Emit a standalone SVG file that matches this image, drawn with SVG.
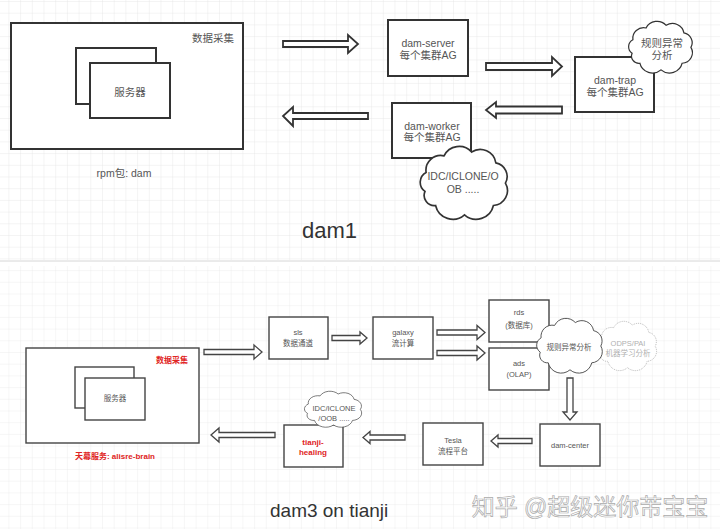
<svg xmlns="http://www.w3.org/2000/svg" width="720" height="529" viewBox="0 0 720 529">
<defs>
<pattern id="grid" x="8.4" y="1" width="11.7" height="11.7" patternUnits="userSpaceOnUse">
<path d="M0,0 H11.7 M0,0 V11.7" fill="none" stroke="#e4e4e4" stroke-width="0.8"/>
</pattern>
<path id="cloud" d="M8.7,28.4 A16,16 0 0 1 28,10.6 A18,18 0 0 1 57.6,6.5 A17,17 0 0 1 83.7,18.1 A15,15 0 0 1 94,40 A16,16 0 0 1 81.1,64 A19,19 0 0 1 50,74 A19,19 0 0 1 18.9,64 A11,11 0 0 1 7.5,48.8 A12,12 0 0 1 8.7,28.4 Z"/>
</defs>
<style>
text{font-family:"Liberation Sans","Noto Sans CJK SC",sans-serif;text-anchor:middle;}
.box{fill:#fff;stroke:#333;stroke-width:2;}
.box2{fill:#fff;stroke:#444;stroke-width:1.4;}
.arr{fill:#fff;stroke:#333;stroke-width:1.8;stroke-linejoin:miter;}
.arr2{fill:#fff;stroke:#444;stroke-width:1.3;}
.cl{fill:#fff;stroke:#333;stroke-width:1.8;}
.cl2{fill:#fff;stroke:#444;stroke-width:1.3;}
.cld{fill:#fff;stroke:#999;stroke-width:1.1;stroke-dasharray:1.5 1.5;}
.t{font-size:10.5px;fill:#555;}
.t2{font-size:7.5px;fill:#555;}
.red{font-size:8px;fill:#e02424;font-weight:bold;}
.gray{font-size:7.5px;fill:#b0b0b0;}
.title{font-size:22px;fill:#333;text-anchor:start;}
</style>
<rect width="720" height="529" fill="#fff"/>
<rect x="0" y="0" width="720" height="260" fill="url(#grid)"/>
<rect x="0" y="266" width="720" height="263" fill="url(#grid)" opacity="0.8"/>
<line x1="0" y1="261" x2="720" y2="261" stroke="#d6d6d6" stroke-width="1"/>

<g id="connectors">
<polygon class="arr" points="283,41 348,41 348,35 358,44 348,53 348,47 283,47"/>
<polygon class="arr" points="368,113 293,113 293,107 283,116 293,126 293,119 368,119"/>
<polygon class="arr" points="486,63 552,63 552,57 562,66.5 552,76 552,70 486,70"/>
<polygon class="arr" points="562,106.5 496,106.5 496,102 486,110 496,118 496,113.5 562,113.5"/>
<polygon class="arr2" points="204,349.5 254,349.5 254,345 262,352 254,359 254,354.5 204,354.5"/>
<polygon class="arr2" points="332,335.5 360,335.5 360,332 367,338 360,344 360,340.5 332,340.5"/>
<polygon class="arr2" points="437,330 477,330 477,325.5 485,332.5 477,339.5 477,335 437,335"/>
<polygon class="arr2" points="437,350.5 477,350.5 477,346 485,353 477,360 477,355.5 437,355.5"/>
<polygon class="arr2" points="567,378 567,412 563,412 570,420 577,412 573,412 573,378"/>
<polygon class="arr2" points="532,438.5 498,438.5 498,435 491,441 498,447 498,443.5 532,443.5"/>
<polygon class="arr2" points="405,435 370,435 370,431.5 363,437.5 370,443.5 370,440 405,440"/>
<polygon class="arr2" points="275,432.5 219,432.5 219,428 211,435 219,442 219,437.5 275,437.5"/>
</g>

<g id="collect1">
<rect class="box" x="11" y="23" width="232" height="126"/>
<text class="t" x="213" y="42" fill="#333">数据采集</text>
</g>
<g id="server1">
<rect class="box" x="76" y="48" width="80" height="56"/>
<rect class="box" x="90" y="63" width="80" height="55"/>
<text class="t" x="130" y="96">服务器</text>
</g>
<text class="t" x="124" y="177">rpm包: dam</text>
<g id="dam-server">
<rect class="box" x="388" y="20" width="80" height="56"/>
<text class="t" x="428" y="47">dam-server</text>
<text class="t" x="428" y="59">每个集群AG</text>
</g>
<g id="dam-trap">
<rect class="box" x="575" y="57" width="79" height="55"/>
<text class="t" x="615" y="84">dam-trap</text>
<text class="t" x="615" y="96">每个集群AG</text>
</g>
<g id="cloud-rule1">
<use href="#cloud" class="cl" transform="translate(627,21) scale(0.68,0.66)" vector-effect="non-scaling-stroke"/>
<text class="t" x="662" y="47">规则异常</text>
<text class="t" x="662" y="59">分析</text>
</g>
<g id="dam-worker">
<rect class="box" x="392" y="103" width="79" height="55"/>
<text class="t" x="432" y="130">dam-worker</text>
<text class="t" x="432" y="141">每个集群AG</text>
</g>
<g id="cloud-idc1">
<use href="#cloud" class="cl" transform="translate(418,146) scale(0.93,0.93)"/>
<text class="t" x="463" y="180">IDC/ICLONE/O</text>
<text class="t" x="463" y="193">OB .....</text>
</g>
<text class="title" x="302" y="238">dam1</text>

<g id="collect3">
<rect class="box2" x="26" y="348" width="173" height="95"/>
<text class="red" x="172" y="363">数据采集</text>
</g>
<text class="red" x="115" y="459">天幕服务: alisre-brain</text>
<g id="server3">
<rect class="box2" x="75" y="367" width="59" height="41"/>
<rect class="box2" x="85" y="378" width="60" height="42"/>
<text class="t2" x="115" y="401">服务器</text>
</g>
<g id="sls">
<rect class="box2" x="269" y="317" width="59" height="42"/>
<text class="t2" x="298" y="335">sls</text>
<text class="t2" x="298" y="346">数据通道</text>
</g>
<g id="galaxy">
<rect class="box2" x="373" y="317" width="60" height="42"/>
<text class="t2" x="403" y="335">galaxy</text>
<text class="t2" x="403" y="346">流计算</text>
</g>
<g id="rds">
<rect class="box2" x="489" y="300" width="60" height="42"/>
<text class="t2" x="519" y="315">rds</text>
<text class="t2" x="519" y="328">(数据库)</text>
</g>
<g id="ads">
<rect class="box2" x="489" y="348" width="60" height="42"/>
<text class="t2" x="519" y="366">ads</text>
<text class="t2" x="519" y="377">(OLAP)</text>
</g>
<g id="cloud-odps">
<use href="#cloud" class="cld" transform="translate(596,321) scale(0.63,0.63)"/>
<text class="gray" x="628" y="346">ODPS/PAI</text>
<text class="gray" x="628" y="356">机器学习分析</text>
</g>
<g id="cloud-rule3">
<use href="#cloud" class="cl2" transform="translate(535,318) scale(0.7,0.7)"/>
<text class="t2" x="569" y="350">规则异常分析</text>
</g>
<g id="dam-center">
<rect class="box2" x="540" y="424" width="60" height="42"/>
<text class="t2" x="570" y="448">dam-center</text>
</g>
<g id="tesla">
<rect class="box2" x="423" y="423" width="60" height="42"/>
<text class="t2" x="453" y="443">Tesla</text>
<text class="t2" x="453" y="454">流程平台</text>
</g>
<g id="tianji-healing">
<rect class="box2" x="284" y="425" width="59" height="42"/>
<text class="red" x="313" y="445">tianji-</text>
<text class="red" x="313" y="455">healing</text>
</g>
<g id="cloud-idc3">
<use href="#cloud" class="cl2" transform="translate(303,391) scale(0.61,0.46)"/>
<text class="t2" x="334" y="411">IDC/ICLONE</text>
<text class="t2" x="334" y="421">/OOB .....</text>
</g>
<text x="270" y="517" style="font-size:19px;fill:#333;text-anchor:start">dam3 on tianji</text>
<text x="590" y="515" style="font-size:23px;fill:#fff;stroke:#aaa;stroke-width:0.7">知乎 @超级迷你芾宝宝</text>
</svg>
